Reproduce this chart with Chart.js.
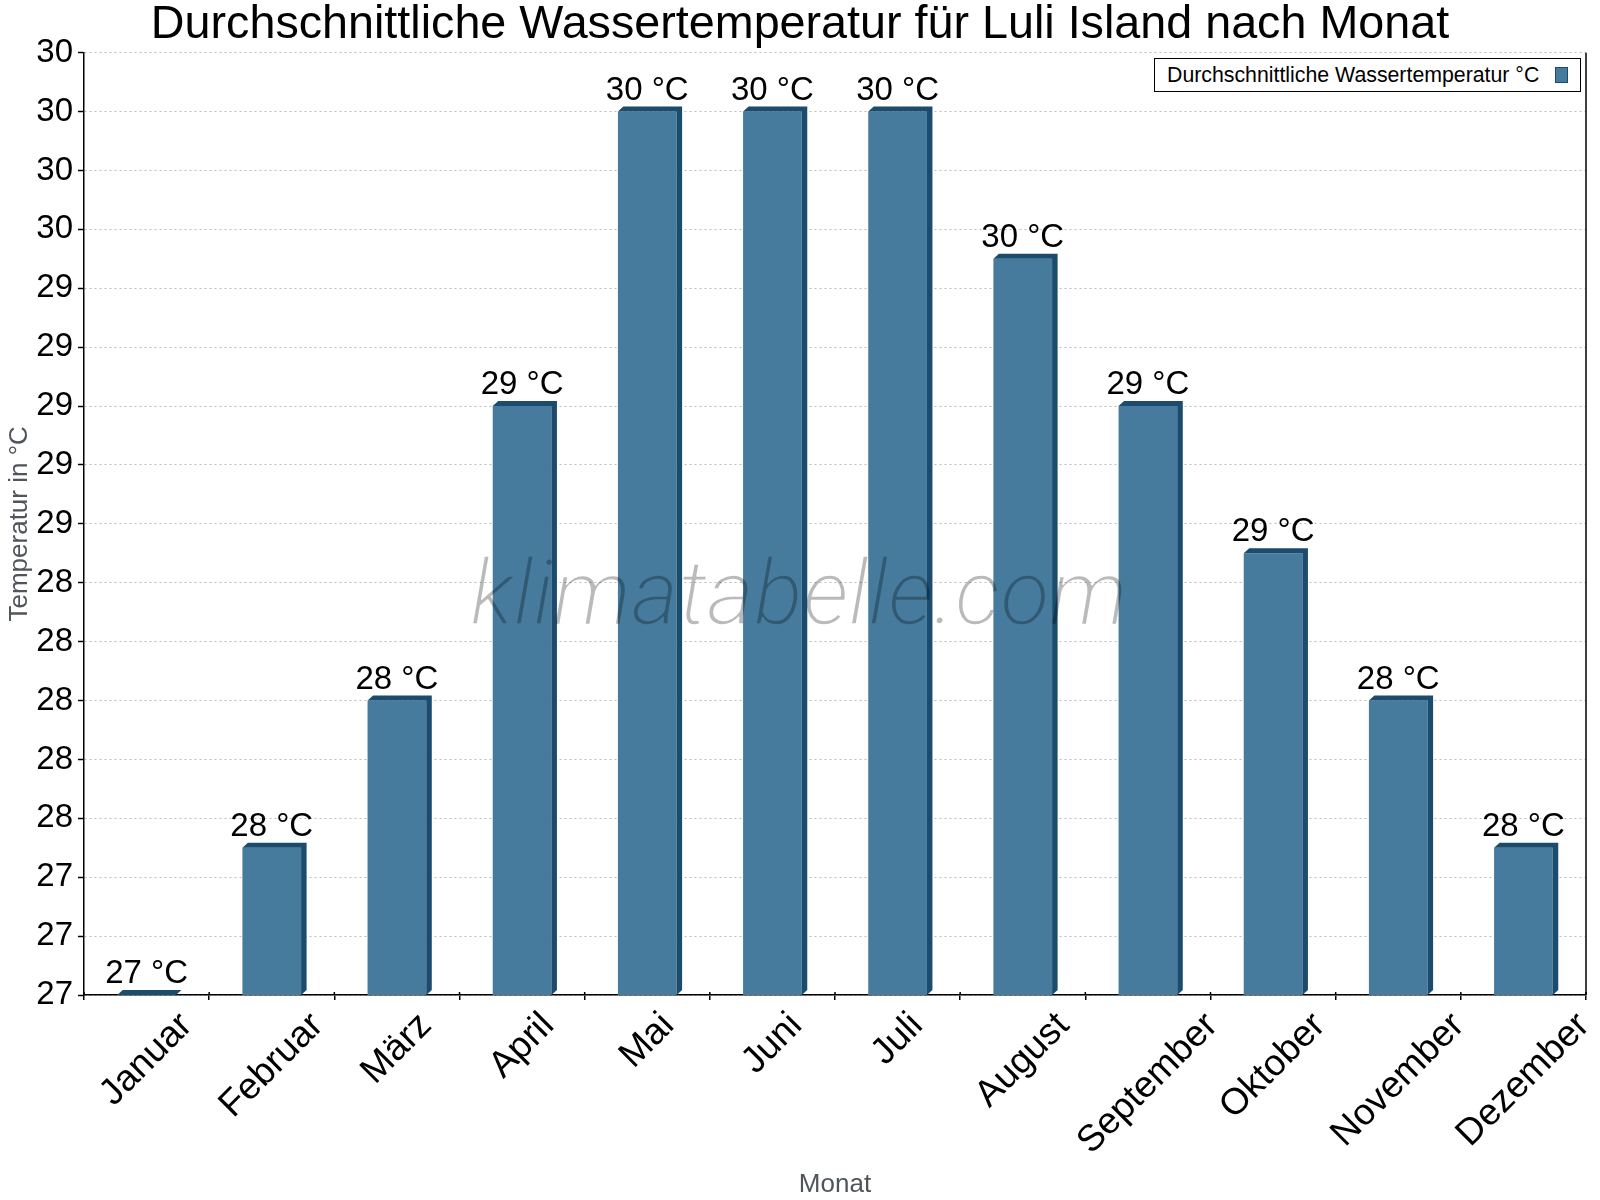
<!DOCTYPE html>
<html>
<head>
<meta charset="utf-8">
<script src="https://cdn.jsdelivr.net/npm/chart.js@4.4.1/dist/chart.umd.min.js"></script>
<style>
  body { margin: 0; background: #fff; }
  #wrap { position: relative; width: 1600px; height: 1200px; }
  #legend {
    position: absolute; left: 1154px; top: 58px; width: 427px; height: 34px;
    box-sizing: border-box; border: 1px solid #000; background: #fff;
    font: 21.3px "Liberation Sans", Arial, sans-serif; color: #000;
    display: flex; align-items: center; justify-content: space-between;
    padding: 0 12px 0 12px;
  }
  #legend .swatch { width: 11px; height: 14px; background: #467b9e; border: 1px solid #1b4b6d; }
</style>
</head>
<body>
<div id="wrap">
  <canvas id="chart" width="1600" height="1200"></canvas>
  <div id="legend"><span>Durchschnittliche Wassertemperatur °C</span><span class="swatch"></span></div>
</div>
<script>
// Wassertemperatur Luli Island
const months = ['Januar', 'Februar', 'März', 'April', 'Mai', 'Juni', 'Juli', 'August', 'September', 'Oktober', 'November', 'Dezember'];
const waterTemp = [27.0, 27.5, 28.0, 29.0, 30.0, 30.0, 30.0, 29.5, 29.0, 28.5, 28.0, 27.5];
const yMin = 27, yMax = 30.2, yStep = 0.2;

const FONT = '"Liberation Sans", Arial, sans-serif';
const frontColor = '#467b9e';
const sideColor = '#1b4b6d';

// 3D-Seiten, Werte, Monatsnamen und Wasserzeichen
const extras = {
  id: 'extras',
  afterDatasetsDraw(chart) {
    const ctx = chart.ctx;
    const a = chart.chartArea;
    const meta = chart.getDatasetMeta(0);
    const dx = 5.5, dy = 5;
    ctx.save();
    ctx.fillStyle = sideColor;
    meta.data.forEach(bar => {
      const { x, y, width } = bar.getProps(['x', 'y', 'width'], true);
      const base = a.bottom;
      const l = x - width / 2, r = x + width / 2;
      ctx.beginPath();
      ctx.moveTo(l, y);
      ctx.lineTo(l + dx, y - dy);
      ctx.lineTo(r + dx, y - dy);
      ctx.lineTo(r + dx, base - dy);
      ctx.lineTo(r, base);
      ctx.lineTo(r, y);
      ctx.closePath();
      ctx.fill();
    });
    // Werte über den Balken
    ctx.fillStyle = '#000';
    ctx.font = '33px ' + FONT;
    ctx.textAlign = 'center';
    ctx.textBaseline = 'alphabetic';
    meta.data.forEach((bar, i) => {
      ctx.fillText(Math.round(waterTemp[i]) + ' °C', bar.x, bar.y - 12);
    });
    // rechte Rahmenlinie
    ctx.strokeStyle = '#000';
    ctx.lineWidth = 1.5;
    ctx.beginPath();
    ctx.moveTo(a.right, a.top);
    ctx.lineTo(a.right, a.bottom);
    ctx.stroke();
    // x-Ticks ragen etwas in die Fläche
    const xs = chart.scales.x;
    const step = (a.right - a.left) / months.length;
    for (let i = 0; i <= months.length; i++) {
      const x = xs.getPixelForValue(i) - step / 2;
      ctx.beginPath();
      ctx.moveTo(x, a.bottom - 3);
      ctx.lineTo(x, a.bottom);
      ctx.stroke();
    }
    ctx.restore();
  },
  afterDraw(chart) {
    const ctx = chart.ctx;
    const xs = chart.scales.x;
    const fs = 37;
    ctx.save();
    // Monatsnamen, 45 Grad gedreht
    ctx.font = fs + 'px ' + FONT;
    ctx.fillStyle = '#000';
    ctx.textAlign = 'center';
    ctx.textBaseline = 'middle';
    months.forEach((m, i) => {
      const x = xs.getPixelForValue(i);
      const L = ctx.measureText(m).width;
      const cy = xs.top + 15 + (L + 0.75 * fs) / (2 * Math.SQRT2);
      ctx.save();
      ctx.translate(x, cy);
      ctx.rotate(-Math.PI / 4);
      ctx.fillText(m, 0, 0);
      ctx.restore();
    });
    // Wasserzeichen, dünn gemacht
    const wm = 'klimatabelle.com';
    const wmFont = '"Roboto Light", Roboto, ' + FONT;
    const off = document.createElement('canvas');
    off.width = chart.width;
    off.height = chart.height;
    const o = off.getContext('2d');
    o.font = 'italic 300 90px ' + wmFont;
    const size = 90 * 658 / o.measureText(wm).width;
    o.font = 'italic 300 ' + size.toFixed(1) + 'px ' + wmFont;
    o.textAlign = 'center';
    o.textBaseline = 'alphabetic';
    o.fillStyle = '#000';
    o.fillText(wm, 799, 624);
    o.globalCompositeOperation = 'destination-out';
    o.lineWidth = 1.6;
    o.lineJoin = 'round';
    o.strokeStyle = '#000';
    o.strokeText(wm, 799, 624);
    ctx.globalAlpha = 0.27;
    ctx.drawImage(off, 0, 0);
    ctx.restore();
  }
};

new Chart(document.getElementById('chart'), {
  type: 'bar',
  data: {
    labels: months,
    datasets: [{
      label: 'Durchschnittliche Wassertemperatur °C',
      data: waterTemp,
      backgroundColor: frontColor,
      borderWidth: 0,
      barPercentage: 0.469,
      categoryPercentage: 1
    }]
  },
  options: {
    responsive: false,
    animation: false,
    devicePixelRatio: 1,
    layout: { padding: 0 },
    plugins: {
      legend: { display: false },
      tooltip: { enabled: false },
      title: {
        display: true,
        text: 'Durchschnittliche Wassertemperatur für Luli Island nach Monat',
        color: '#000',
        font: { family: FONT, size: 46.7, weight: 'normal', lineHeight: 1 },
        padding: { top: 2, bottom: 4 }
      }
    },
    scales: {
      x: {
        offset: true,
        grid: {
          display: true, drawOnChartArea: false, drawTicks: true, offset: true,
          tickLength: 5, tickColor: '#000', color: '#000', lineWidth: 1.5
        },
        border: { display: true, color: '#000', width: 1.5 },
        ticks: { display: false },
        title: {
          display: true, text: 'Monat', color: '#50555b',
          font: { family: FONT, size: 26 }, padding: { top: 0, bottom: 0 }
        },
        afterFit(scale) { scale.height = 205; }
      },
      y: {
        min: yMin,
        max: yMax,
        grid: {
          color: '#bdbdbd', lineWidth: 1,
          drawTicks: true, tickLength: 6, tickColor: '#000', tickBorderDash: [], tickWidth: 1.5
        },
        border: { display: true, color: '#000', width: 1.5, dash: [2, 3] },
        ticks: {
          stepSize: yStep,
          color: '#000',
          padding: 5,
          font: { family: FONT, size: 33 },
          callback: v => Math.round(v)
        },
        title: {
          display: true, text: 'Temperatur in °C', color: '#50555b',
          font: { family: FONT, size: 26 }, padding: { top: 4, bottom: 0 }
        },
        afterFit(scale) { scale.width = 84; }
      },
      yRight: {
        position: 'right',
        min: yMin,
        max: yMax,
        grid: { drawOnChartArea: false, drawTicks: false },
        border: { display: false },
        ticks: { display: false },
        afterFit(scale) { scale.width = 14; }
      }
    }
  },
  plugins: [extras]
});
</script>
</body>
</html>
